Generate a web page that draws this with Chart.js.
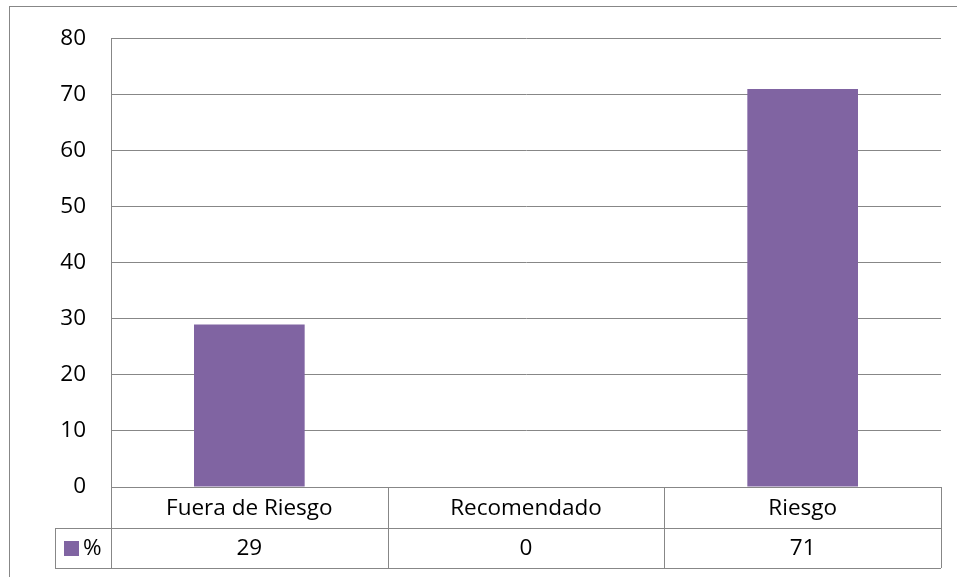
<!DOCTYPE html>
<html>
<head>
<meta charset="utf-8">
<script src="https://cdn.jsdelivr.net/npm/chart.js@4"></script>
<style>
  html, body { margin: 0; padding: 0; background: #fff; }
  #wrap { width: 957px; height: 577px; position: relative; }
</style>
</head>
<body>
<div id="wrap"><canvas id="c" width="957" height="577"></canvas></div>
<script>
// Chart data
const categories = ['Fuera de Riesgo', 'Recomendado', 'Riesgo'];
const seriesName = '%';
const percentValues = [29, 0, 71];
const yTicks = [0, 10, 20, 30, 40, 50, 60, 70, 80];

const BAR_COLOR = '#8064A2';
const LINE_COLOR = '#878787';
const FONT = '"Open Sans", "Noto Sans", sans-serif';

// Data table drawn under the plot area, aligned to the category scale
const dataTablePlugin = {
  id: 'dataTable',
  afterDraw(chart) {
    const ctx = chart.ctx;
    const area = chart.chartArea;
    const xs = chart.scales.x;
    const n = categories.length;
    const step = (area.right - area.left) / n;
    const row1Top = area.bottom;
    const row1Bottom = area.bottom + 41;
    const row2Bottom = row1Bottom + 40;
    const legendLeft = 55;

    ctx.save();
    ctx.strokeStyle = LINE_COLOR;
    ctx.lineWidth = 1;
    ctx.beginPath();
    // horizontal lines
    ctx.moveTo(area.left, row1Top + 0.5); ctx.lineTo(area.right, row1Top + 0.5);
    ctx.moveTo(legendLeft, row1Bottom + 0.5); ctx.lineTo(area.right, row1Bottom + 0.5);
    ctx.moveTo(legendLeft, row2Bottom + 0.5); ctx.lineTo(area.right, row2Bottom + 0.5);
    // vertical lines
    for (let i = 0; i <= n; i++) {
      const x = Math.round(area.left + i * step) + 0.5;
      ctx.moveTo(x, row1Top); ctx.lineTo(x, row2Bottom);
    }
    ctx.moveTo(legendLeft + 0.5, row1Bottom); ctx.lineTo(legendLeft + 0.5, row2Bottom);
    ctx.stroke();

    ctx.fillStyle = '#000';
    ctx.font = '22.5px ' + FONT;
    ctx.textAlign = 'center';
    ctx.textBaseline = 'middle';
    categories.forEach((c, i) => {
      const cx = xs.getPixelForValue(i);
      ctx.fillText(c, cx, (row1Top + row1Bottom) / 2 + 1);
      ctx.fillText(String(percentValues[i]), cx, (row1Bottom + row2Bottom) / 2 + 1);
    });

    // legend key
    const midY = (row1Bottom + row2Bottom) / 2;
    ctx.fillStyle = BAR_COLOR;
    ctx.fillRect(64, midY - 7, 15, 15);
    ctx.fillStyle = '#000';
    ctx.textAlign = 'left';
    ctx.fillText(seriesName, 83, midY + 1);
    ctx.restore();
  }
};

// Outer chart frame
const framePlugin = {
  id: 'frame',
  afterDraw(chart) {
    const ctx = chart.ctx;
    ctx.save();
    ctx.strokeStyle = LINE_COLOR;
    ctx.lineWidth = 1;
    ctx.strokeRect(9.5, 6.5, 1000, 1000);
    ctx.restore();
  }
};

new Chart(document.getElementById('c'), {
  type: 'bar',
  data: {
    labels: categories,
    datasets: [{
      label: seriesName,
      data: percentValues,
      backgroundColor: BAR_COLOR,
      borderWidth: 0,
      categoryPercentage: 0.4,
      barPercentage: 1.0
    }]
  },
  options: {
    responsive: false,
    animation: false,
    devicePixelRatio: 1,
    layout: { padding: { left: 0, top: 36, right: 16, bottom: 90 } },
    plugins: { legend: { display: false }, tooltip: { enabled: false } },
    scales: {
      x: { display: false },
      y: {
        min: 0, max: 80,
        afterFit(scale) { scale.width = 111; },
        afterBuildTicks(scale) { scale.ticks = yTicks.map(v => ({ value: v })); },
        border: { display: true, color: LINE_COLOR, width: 1 },
        grid: { color: LINE_COLOR, lineWidth: 1, drawTicks: false },
        ticks: {
          padding: 25,
          color: '#000',
          font: { family: FONT, size: 22.5 }
        }
      }
    }
  },
  plugins: [dataTablePlugin, framePlugin]
});
</script>
</body>
</html>
